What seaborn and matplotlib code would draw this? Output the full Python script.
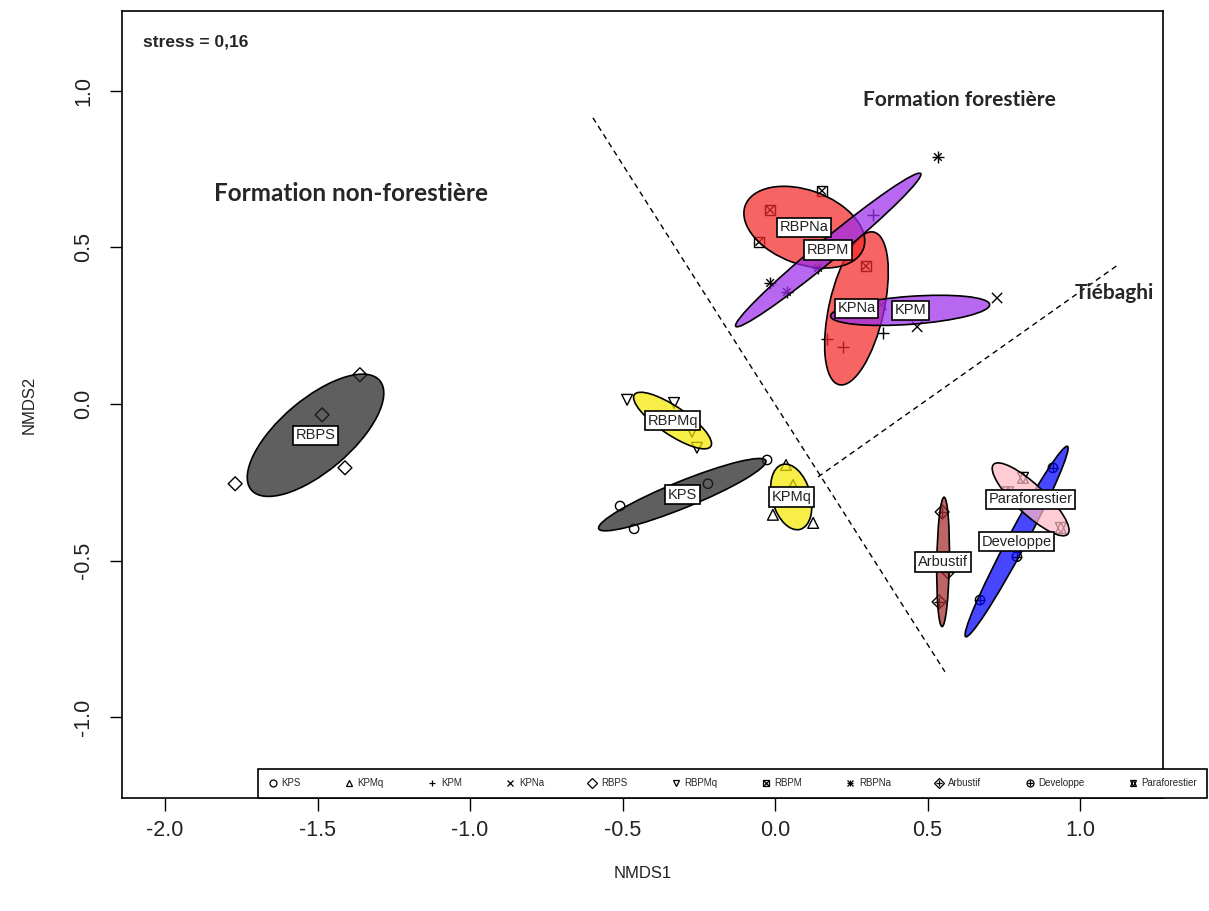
import numpy as np
import pandas as pd
import matplotlib
matplotlib.use("Agg")
import matplotlib.pyplot as plt
from matplotlib.patches import Ellipse
from matplotlib.lines import Line2D
from matplotlib.markers import MarkerStyle
from matplotlib.legend_handler import HandlerTuple
import seaborn as sns

# NMDS site scores
kps_x = [-0.508, -0.462, -0.220, -0.026]
kps_y = [-0.326, -0.399, -0.255, -0.179]
kpmq_x = [0.036, 0.059, -0.007, 0.125]
kpmq_y = [-0.195, -0.259, -0.354, -0.380]
kpm_x = [0.321, 0.170, 0.223, 0.354]
kpm_y = [0.603, 0.207, 0.182, 0.227]
kpna_x = [0.728, 0.466, 0.230, 0.348]
kpna_y = [0.338, 0.246, 0.294, 0.316]
rbps_x = [-1.361, -1.485, -1.410, -1.770]
rbps_y = [0.093, -0.035, -0.204, -0.255]
rbpmq_x = [-0.485, -0.331, -0.272, -0.256]
rbpmq_y = [0.013, 0.003, -0.089, -0.140]
rbpm_x = [0.154, -0.016, -0.052, 0.298]
rbpm_y = [0.680, 0.619, 0.517, 0.440]
rbpna_x = [-0.016, 0.039, 0.141, 0.534]
rbpna_y = [0.386, 0.357, 0.434, 0.788]
arbustif_x = [0.548, 0.538, 0.567]
arbustif_y = [-0.345, -0.632, -0.536]
developpe_x = [0.911, 0.793, 0.672]
developpe_y = [-0.204, -0.488, -0.626]
parafor_x = [0.764, 0.813, 0.937]
parafor_y = [-0.282, -0.236, -0.396]

groups = ["KPS", "KPMq", "KPM", "KPNa", "RBPS", "RBPMq", "RBPM", "RBPNa",
          "Arbustif", "Developpe", "Paraforestier"]
xs = [kps_x, kpmq_x, kpm_x, kpna_x, rbps_x, rbpmq_x, rbpm_x, rbpna_x,
      arbustif_x, developpe_x, parafor_x]
ys = [kps_y, kpmq_y, kpm_y, kpna_y, rbps_y, rbpmq_y, rbpm_y, rbpna_y,
      arbustif_y, developpe_y, parafor_y]
# text printed in the box at each ellipse centre (as in the original figure)
box_labels = ["KPS", "KPMq", "KPNa", "KPM", "RBPS", "RBPMq", "RBPNa", "RBPM",
              "Arbustif", "Developpe", "Paraforestier"]
ell_colors = ["#222222", "#F5E800", "#F52828", "#9B2CEB", "#222222", "#F5E800",
              "#F52828", "#9B2CEB", "#A52A2A", "#0000FF", "#FFB8C4"]

# group boundaries
line1_x = [-0.597, 0.557]
line1_y = [0.913, -0.855]
line2_x = [0.141, 1.125]
line2_y = [-0.233, 0.444]

# pch-like symbols (several layers for composite symbols)
symbols = [["o"], ["^"], ["+"], ["x"], ["D"], ["v"], ["s", "x"], ["+", "x"],
           ["D", "+"], ["o", "+"], ["^", "v"]]
sym_size = {"o": 45, "^": 60, "v": 60, "+": 80, "x": 55, "D": 50, "s": 55}
sym_size_inner = {"x": 30, "+": 45, "v": 60, "^": 60}

rows = []
for g, gx, gy in zip(groups, xs, ys):
    for a, b in zip(gx, gy):
        rows.append({"group": g, "NMDS1": a, "NMDS2": b})
df = pd.DataFrame(rows)

sns.set_style("white")
plt.rcParams["font.family"] = ["Liberation Sans", "DejaVu Sans"]
plt.rcParams["axes.unicode_minus"] = False

fig = plt.figure(figsize=(12.09, 9.11), dpi=100)
ax = fig.add_axes([122 / 1209, 113 / 911, (1163 - 122) / 1209, (798 - 11) / 911])

# points
for g, syms in zip(groups, symbols):
    sub = df[df["group"] == g]
    for i, m in enumerate(syms):
        size = sym_size[m] if i == 0 else sym_size_inner.get(m, 45)
        sns.scatterplot(data=sub, x="NMDS1", y="NMDS2",
                        marker=MarkerStyle(m, fillstyle="none"),
                        color="black", s=size, linewidth=1.0,
                        legend=False, ax=ax, zorder=2)

# standard-error ellipses (95 %)
scale = np.sqrt(-2 * np.log(0.05))
for gx, gy, col, lab in zip(xs, ys, ell_colors, box_labels):
    pts = np.column_stack([gx, gy])
    n = len(pts)
    cen = pts.mean(axis=0)
    cov = np.cov(pts, rowvar=False) / n
    vals, vecs = np.linalg.eigh(cov)
    w = 2 * scale * np.sqrt(vals[1])
    h = 2 * scale * np.sqrt(max(vals[0], 0))
    h = max(h, 0.035)
    ang = np.degrees(np.arctan2(vecs[1, 1], vecs[0, 1]))
    ax.add_patch(Ellipse(cen, w, h, angle=ang, facecolor=col, alpha=0.72,
                         edgecolor="none", zorder=3))
    ax.add_patch(Ellipse(cen, w, h, angle=ang, facecolor="none",
                         edgecolor="black", lw=1.2, zorder=3))
    ax.text(cen[0], cen[1], lab, ha="center", va="center", fontsize=10.5,
            color="#222222", zorder=5,
            bbox=dict(boxstyle="square,pad=0.18", fc="white", ec="black", lw=1.2))

ax.plot(line1_x, line1_y, color="black", lw=1, ls=(0, (4, 3)), zorder=1)
ax.plot(line2_x, line2_y, color="black", lw=1, ls=(0, (4, 3)), zorder=1)

ax.set_xlim(-2.141, 1.272)
ax.set_ylim(-1.258, 1.254)
ax.set_xticks([-2.0, -1.5, -1.0, -0.5, 0.0, 0.5, 1.0])
ax.set_xticklabels(["-2.0", "-1.5", "-1.0", "-0.5", "0.0", "0.5", "1.0"])
ax.set_yticks([-1.0, -0.5, 0.0, 0.5, 1.0])
ax.set_yticklabels(["-1.0", "-0.5", "0.0", "0.5", "1.0"], rotation=90, va="center")
ax.tick_params(axis="both", direction="out", length=9, width=1, color="black",
               labelsize=15.5, labelcolor="#222222", left=True, bottom=True)
ax.tick_params(axis="x", pad=7)
ax.tick_params(axis="y", pad=11)
for sp in ax.spines.values():
    sp.set_color("black")
    sp.set_linewidth(1.2)
ax.set_xlabel("NMDS1", fontsize=12, labelpad=18, color="#222222")
ax.set_ylabel("NMDS2", fontsize=12, labelpad=26, color="#222222")

ax.text(0.020, 0.961, "stress = 0,16", transform=ax.transAxes, fontsize=12.5,
        fontweight="bold", ha="left", va="center")
bold_font = ["Lato", "DejaVu Sans"]
ax.text(-1.389, 0.673, "Formation non-forestière", fontsize=17.5, fontweight="bold",
        family=bold_font, ha="center", va="center")
ax.text(0.606, 0.970, "Formation forestière", fontsize=15, fontweight="bold",
        family=bold_font, ha="center", va="center")
ax.text(1.112, 0.355, "Tiébaghi", fontsize=15, fontweight="bold",
        family=bold_font, ha="center", va="center", zorder=4)

# legend row at the bottom
handles = []
for syms in symbols:
    parts = [Line2D([], [], marker=MarkerStyle(m, fillstyle="none"), color="black",
                    linestyle="None", markersize=5 if k == 0 else 4, mew=0.9)
             for k, m in enumerate(syms)]
    handles.append(parts[0] if len(parts) == 1 else tuple(parts))
leg = fig.legend(handles, groups, ncol=11, loc="lower left",
                 bbox_to_anchor=(258 / 1209, 113 / 911, (1207 - 258) / 1209, 30 / 911),
                 mode="expand", fontsize=7, frameon=True, fancybox=False,
                 borderaxespad=0, borderpad=1.0, handlelength=1.0, handletextpad=0.4,
                 handler_map={tuple: HandlerTuple(ndivide=1)})
leg.get_frame().set_edgecolor("black")
leg.get_frame().set_linewidth(1.2)
leg.get_frame().set_alpha(1)

fig.savefig("out.png", dpi=100)
